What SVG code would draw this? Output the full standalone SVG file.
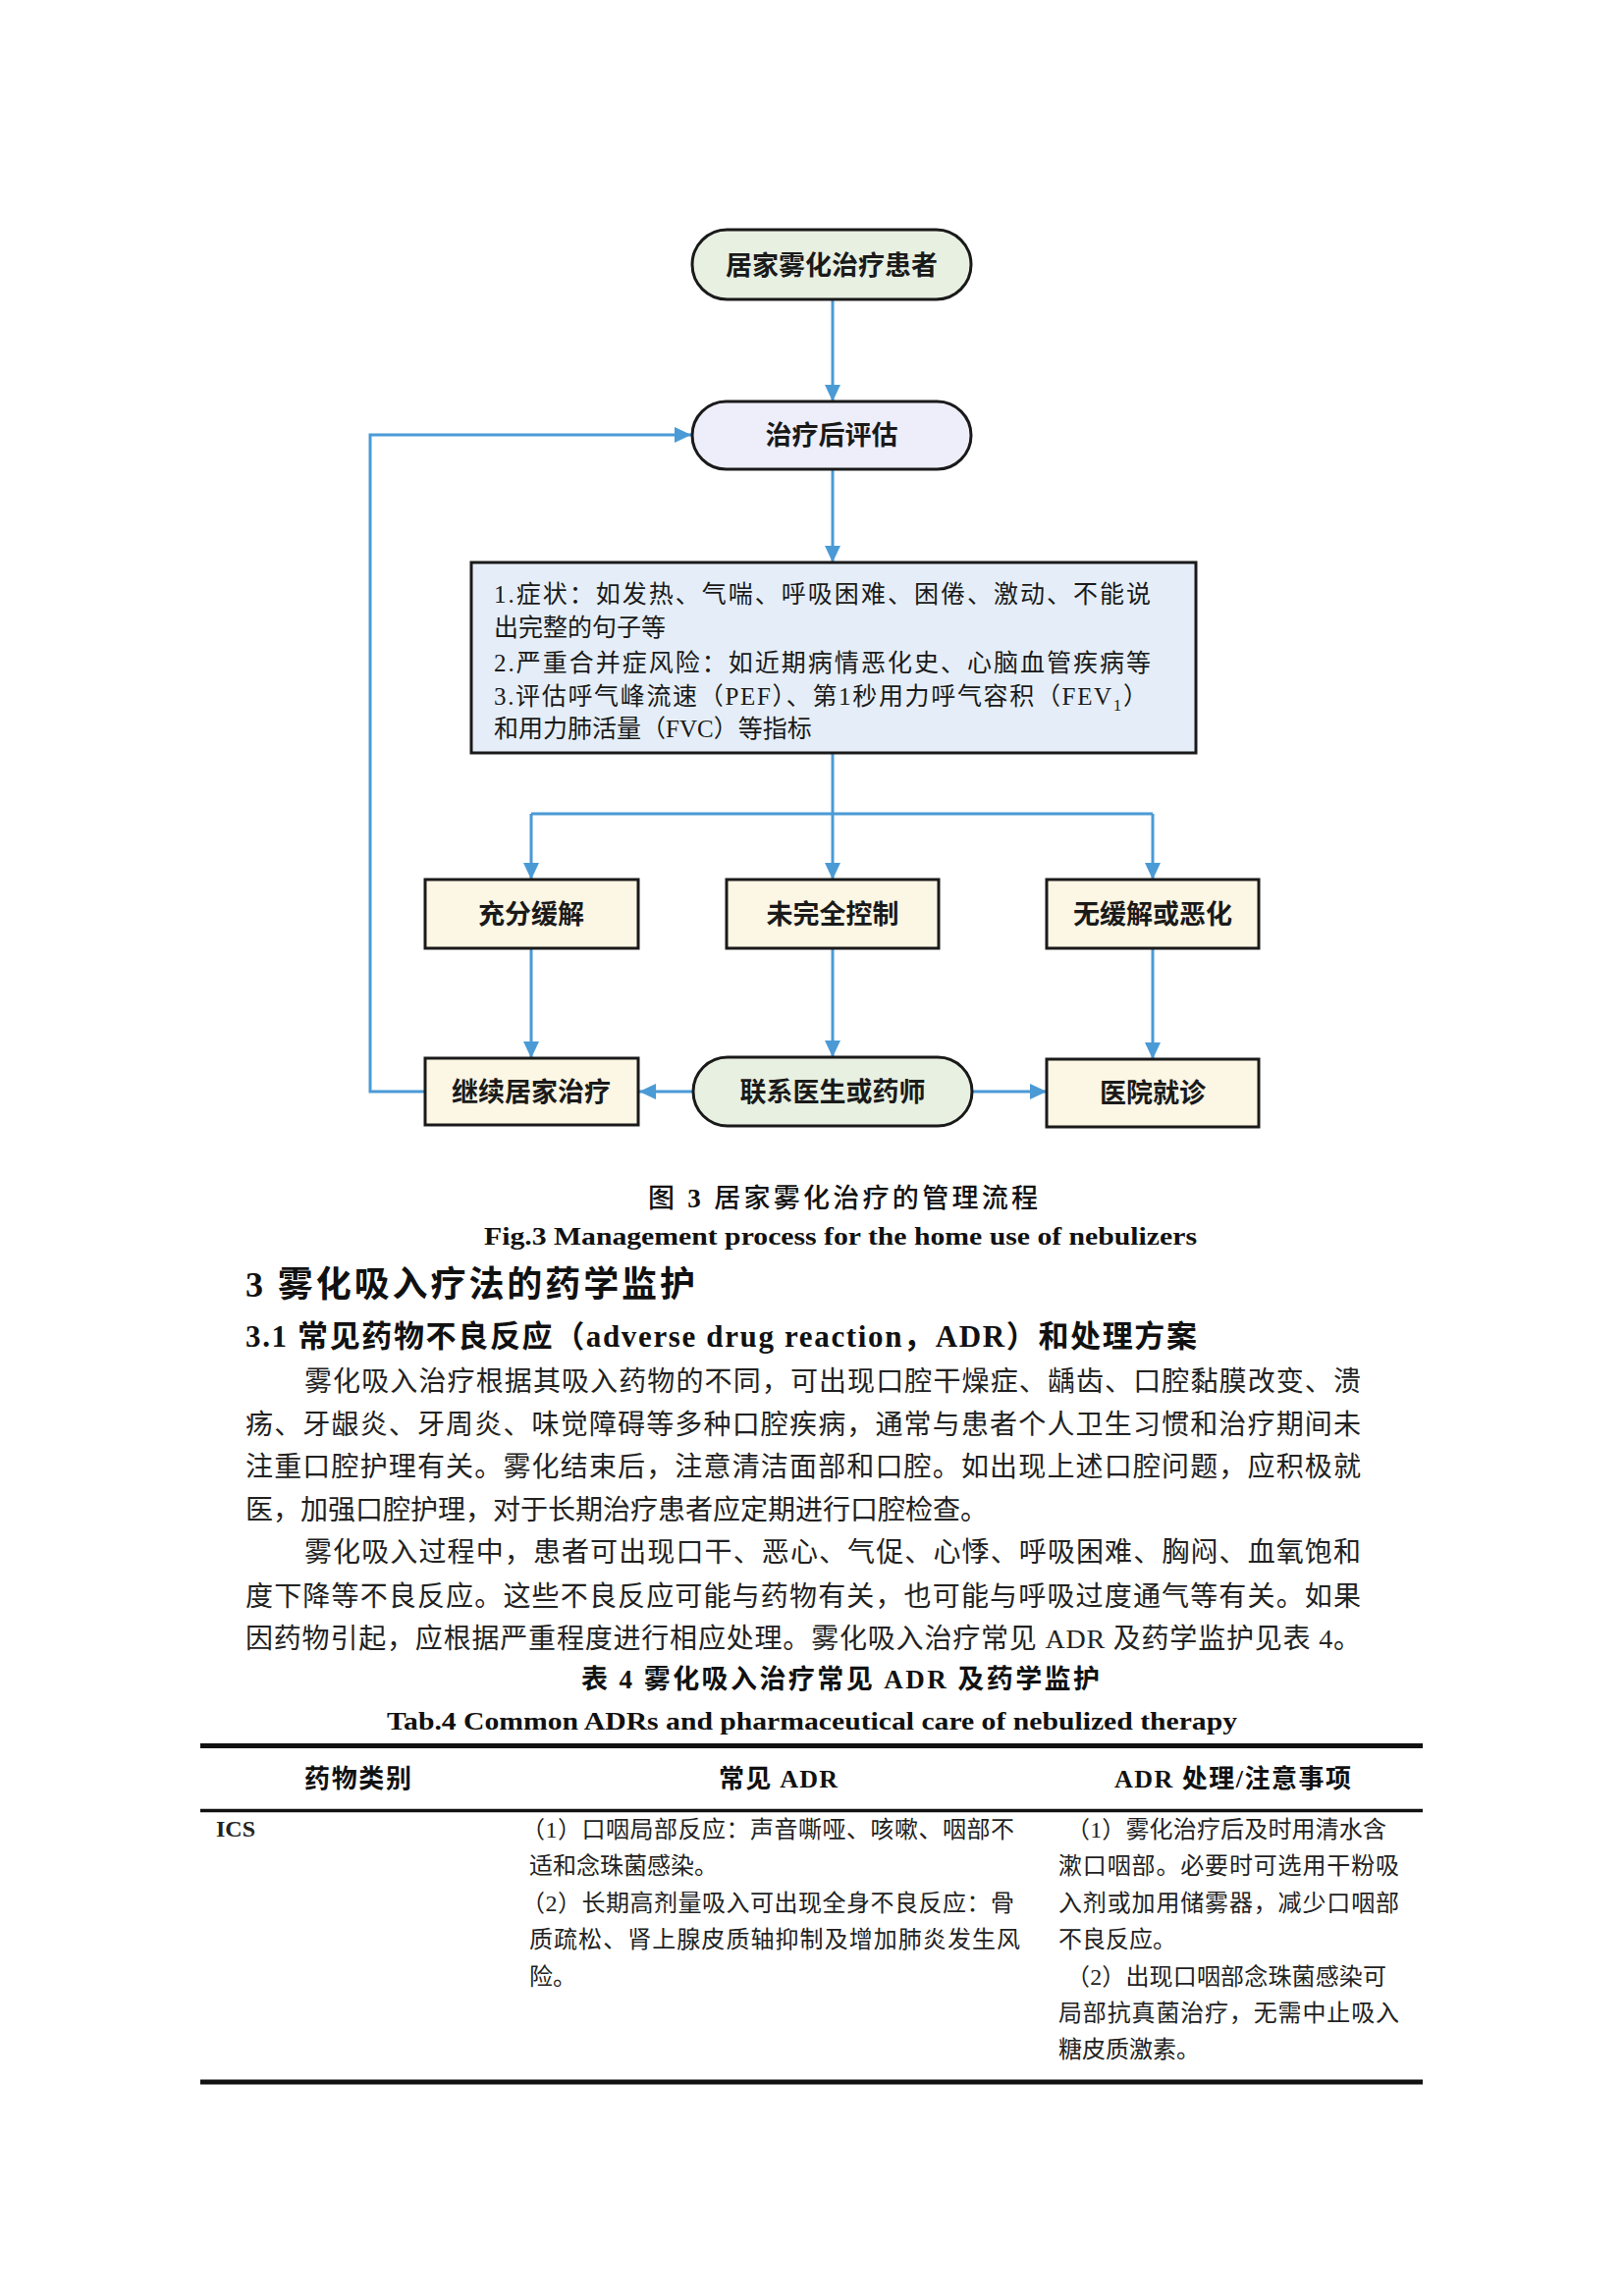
<svg xmlns="http://www.w3.org/2000/svg" width="1654" height="2339" viewBox="0 0 1654 2339">
<style>
.node{stroke:#1a1a1a;stroke-width:3}
.pillg{fill:#e8f0e2}
.pillv{fill:#eeeefb}
.boxb{fill:#e5eef8}
.boxy{fill:#fcf6e4}
.nt{font-family:"Noto Sans CJK SC",sans-serif;font-weight:bold;font-size:27px;fill:#1a1a1a;text-anchor:middle}
.bt{font-family:"Liberation Serif","Noto Sans CJK SC",serif;font-size:25px;fill:#1a1a1a}
.conn path{fill:none;stroke:#4a9ad6;stroke-width:3}
.body{font-family:"Liberation Serif","Noto Sans CJK SC",serif;font-size:28px;fill:#222}
.tb{font-family:"Liberation Serif","Noto Sans CJK SC",serif;font-size:24px;fill:#222}
.th{font-family:"Liberation Serif","Noto Sans CJK SC",serif;font-size:26px;font-weight:bold;fill:#111}
.rule{stroke:#111}
</style>
<defs>
<marker id="ah" markerUnits="userSpaceOnUse" markerWidth="18" markerHeight="18" refX="17" refY="8" orient="auto">
<path d="M0,0 L17,8 L0,16 z" fill="#4a9ad6"/>
</marker>
</defs>
<rect width="1654" height="2339" fill="#ffffff"/>

<g class="conn" id="connectors">
<path d="M848,306 V409" marker-end="url(#ah)"/>
<path d="M848,478 V573" marker-end="url(#ah)"/>
<path d="M848,767 V829"/>
<path d="M541,829 H1174"/>
<path d="M541,829 V896" marker-end="url(#ah)"/>
<path d="M848,829 V896" marker-end="url(#ah)"/>
<path d="M1174,829 V896" marker-end="url(#ah)"/>
<path d="M541,966 V1078" marker-end="url(#ah)"/>
<path d="M848,966 V1077" marker-end="url(#ah)"/>
<path d="M1174,966 V1079" marker-end="url(#ah)"/>
<path d="M706,1112 H651" marker-end="url(#ah)"/>
<path d="M990,1112 H1066" marker-end="url(#ah)"/>
<path d="M433,1112 H377 V443 H704" marker-end="url(#ah)"/>
</g>

<g id="n1">
<rect class="node pillg" x="705" y="234" width="284" height="71" rx="35.5"/>
<text class="nt" x="847" y="280">居家雾化治疗患者</text>
</g>
<g id="n2">
<rect class="node pillv" x="705" y="409" width="284" height="69" rx="34.5"/>
<text class="nt" x="847" y="453">治疗后评估</text>
</g>
<g id="n3">
<rect class="node boxb" x="480" y="573" width="738" height="194"/>
<text class="bt" x="503" y="614" textLength="669" lengthAdjust="spacing">1.症状：如发热、气喘、呼吸困难、困倦、激动、不能说</text>
<text class="bt" x="503" y="648">出完整的句子等</text>
<text class="bt" x="503" y="684" textLength="669" lengthAdjust="spacing">2.严重合并症风险：如近期病情恶化史、心脑血管疾病等</text>
<text class="bt" x="503" y="718" textLength="666" lengthAdjust="spacing">3.评估呼气峰流速（PEF）、第1秒用力呼气容积（FEV<tspan dy="6" font-size="17">1</tspan><tspan dy="-6">）</tspan></text>
<text class="bt" x="503" y="751">和用力肺活量（FVC）等指标</text>
</g>
<g id="n4">
<rect class="node boxy" x="433" y="896" width="217" height="70"/>
<text class="nt" x="541" y="941">充分缓解</text>
</g>
<g id="n5">
<rect class="node boxy" x="740" y="896" width="216" height="70"/>
<text class="nt" x="848" y="941">未完全控制</text>
</g>
<g id="n6">
<rect class="node boxy" x="1066" y="896" width="216" height="70"/>
<text class="nt" x="1174" y="941">无缓解或恶化</text>
</g>
<g id="n7">
<rect class="node boxy" x="433" y="1078" width="217" height="68"/>
<text class="nt" x="541" y="1122">继续居家治疗</text>
</g>
<g id="n8">
<rect class="node pillg" x="706" y="1077" width="284" height="70" rx="35"/>
<text class="nt" x="848" y="1122">联系医生或药师</text>
</g>
<g id="n9">
<rect class="node boxy" x="1066" y="1079" width="216" height="69"/>
<text class="nt" x="1174" y="1123">医院就诊</text>
</g>

<g id="captions">
<text x="660" y="1230" textLength="397" lengthAdjust="spacing" style="font-family:'Liberation Serif','Noto Sans CJK SC',serif;font-size:27px;font-weight:500;fill:#111">图 <tspan font-weight="bold">3</tspan>   居家雾化治疗的管理流程</text>
<text x="493" y="1268" textLength="726" lengthAdjust="spacingAndGlyphs" style="font-family:'Liberation Serif',serif;font-size:25px;font-weight:bold;fill:#111">Fig.3   Management process for the home use of nebulizers</text>
</g>

<g id="headings">
<text x="250" y="1321" textLength="458" lengthAdjust="spacing" style="font-family:'Liberation Serif','Noto Sans CJK SC',serif;font-size:36px;font-weight:bold;fill:#111">3 雾化吸入疗法的药学监护</text>
<text x="250" y="1372" textLength="969" lengthAdjust="spacing" style="font-family:'Liberation Serif','Noto Sans CJK SC',serif;font-size:31px;font-weight:bold;fill:#111">3.1 常见药物不良反应（adverse drug reaction，ADR）和处理方案</text>
</g>

<g id="paragraphs">
<text class="body" x="310" y="1417" textLength="1076" lengthAdjust="spacing">雾化吸入治疗根据其吸入药物的不同，可出现口腔干燥症、龋齿、口腔黏膜改变、溃</text>
<text class="body" x="250" y="1461" textLength="1136" lengthAdjust="spacing">疡、牙龈炎、牙周炎、味觉障碍等多种口腔疾病，通常与患者个人卫生习惯和治疗期间未</text>
<text class="body" x="250" y="1504" textLength="1136" lengthAdjust="spacing">注重口腔护理有关。雾化结束后，注意清洁面部和口腔。如出现上述口腔问题，应积极就</text>
<text class="body" x="250" y="1548">医，加强口腔护理，对于长期治疗患者应定期进行口腔检查。</text>
<text class="body" x="310" y="1591" textLength="1076" lengthAdjust="spacing">雾化吸入过程中，患者可出现口干、恶心、气促、心悸、呼吸困难、胸闷、血氧饱和</text>
<text class="body" x="250" y="1636" textLength="1136" lengthAdjust="spacing">度下降等不良反应。这些不良反应可能与药物有关，也可能与呼吸过度通气等有关。如果</text>
<text class="body" x="250" y="1679" textLength="1136" lengthAdjust="spacing">因药物引起，应根据严重程度进行相应处理。雾化吸入治疗常见 ADR 及药学监护见表 4。</text>
</g>

<g id="table">
<text x="592" y="1720" textLength="528" lengthAdjust="spacing" style="font-family:'Liberation Serif','Noto Sans CJK SC',serif;font-size:27px;font-weight:bold;fill:#111">表 4  雾化吸入治疗常见 ADR 及药学监护</text>
<text x="394" y="1762" textLength="866" lengthAdjust="spacingAndGlyphs" style="font-family:'Liberation Serif',serif;font-size:25px;font-weight:bold;fill:#111">Tab.4   Common ADRs and pharmaceutical care of nebulized therapy</text>
<line class="rule" x1="204" y1="1778.5" x2="1449" y2="1778.5" stroke-width="5"/>
<line class="rule" x1="204" y1="1844.5" x2="1449" y2="1844.5" stroke-width="3.5"/>
<line class="rule" x1="204" y1="2121" x2="1449" y2="2121" stroke-width="5"/>
<text class="th" x="310" y="1821" textLength="109" lengthAdjust="spacing">药物类别</text>
<text class="th" x="732" y="1821" textLength="121" lengthAdjust="spacing">常见 ADR</text>
<text class="th" x="1135" y="1821" textLength="241" lengthAdjust="spacing">ADR 处理/注意事项</text>
<text class="tb" x="220" y="1871" font-weight="bold">ICS</text>
<text class="tb" x="531" y="1872" textLength="502" lengthAdjust="spacing">（1）口咽局部反应：声音嘶哑、咳嗽、咽部不</text>
<text class="tb" x="539" y="1909">适和念珠菌感染。</text>
<text class="tb" x="531" y="1947" textLength="502" lengthAdjust="spacing">（2）长期高剂量吸入可出现全身不良反应：骨</text>
<text class="tb" x="539" y="1984" textLength="500" lengthAdjust="spacing">质疏松、肾上腺皮质轴抑制及增加肺炎发生风</text>
<text class="tb" x="539" y="2022">险。</text>
<text class="tb" x="1086" y="1872" textLength="326" lengthAdjust="spacing">（1）雾化治疗后及时用清水含</text>
<text class="tb" x="1078" y="1909" textLength="347" lengthAdjust="spacing">漱口咽部。必要时可选用干粉吸</text>
<text class="tb" x="1078" y="1947" textLength="347" lengthAdjust="spacing">入剂或加用储雾器，减少口咽部</text>
<text class="tb" x="1078" y="1984">不良反应。</text>
<text class="tb" x="1086" y="2022" textLength="326" lengthAdjust="spacing">（2）出现口咽部念珠菌感染可</text>
<text class="tb" x="1078" y="2059" textLength="347" lengthAdjust="spacing">局部抗真菌治疗，无需中止吸入</text>
<text class="tb" x="1078" y="2096">糖皮质激素。</text>
</g>
</svg>
